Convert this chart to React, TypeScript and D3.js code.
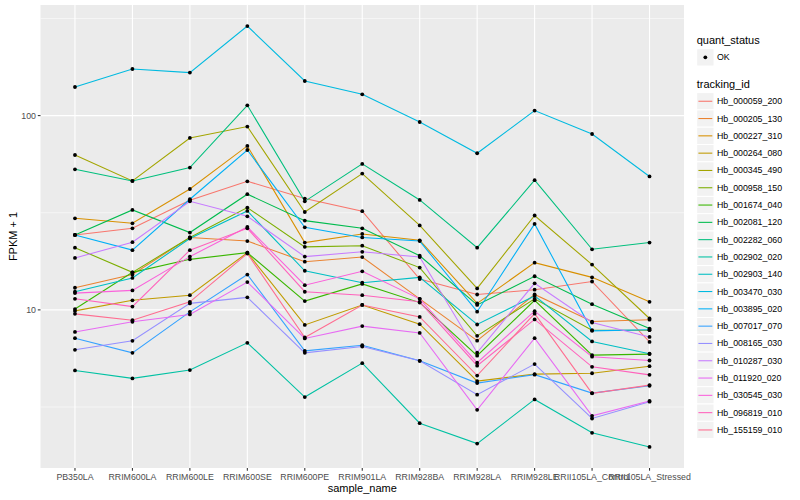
import React from "react";
import * as d3 from "d3";

const samples = [
  "PB350LA", "RRIM600LA", "RRIM600LE", "RRIM600SE", "RRIM600PE", "RRIM901LA",
  "RRIM928BA", "RRIM928LA", "RRIM928LE", "RRII105LA_Control", "RRII105LA_Stressed",
];

const trackingIds = [
  "Hb_000059_200", "Hb_000205_130", "Hb_000227_310", "Hb_000264_080", "Hb_000345_490",
  "Hb_000958_150", "Hb_001674_040", "Hb_002081_120", "Hb_002282_060", "Hb_002902_020",
  "Hb_002903_140", "Hb_003470_030", "Hb_003895_020", "Hb_007017_070", "Hb_008165_030",
  "Hb_010287_030", "Hb_011920_020", "Hb_030545_030", "Hb_096819_010", "Hb_155159_010",
];

// FPKM + 1 per sample
const hb000059_200 = [24.3, 26.3, 36.7, 45.9, 37.4, 32.2, 14.4, 12.0, 12.7, 14.0, 6.84];
const hb000205_130 = [13.0, 15.2, 23.6, 22.6, 17.7, 18.7, 11.4, 6.94, 12.0, 8.71, 8.9];
const hb000227_310 = [29.6, 27.9, 41.9, 69.8, 22.2, 24.6, 22.8, 10.8, 17.5, 14.7, 11.0];
const hb000264_080 = [9.88, 11.2, 11.9, 19.7, 8.37, 10.6, 8.44, 4.3, 4.67, 4.72, 5.13];
const hb000345_490 = [62.7, 46.1, 76.7, 87.8, 31.9, 50.3, 27.2, 12.9, 30.6, 17.1, 9.03];
const hb000958_150 = [20.9, 15.6, 23.6, 33.6, 21.1, 21.4, 16.5, 7.35, 11.4, 7.86, 7.86];
const hb001674_040 = [10.1, 15.6, 18.2, 19.7, 11.1, 13.6, 10.9, 5.81, 11.2, 5.85, 5.92];
const hb002081_120 = [24.3, 32.7, 25.0, 39.4, 28.8, 26.3, 19.0, 10.6, 14.9, 10.7, 8.01];
const hb002282_060 = [52.9, 46.1, 54.0, 113.0, 36.2, 56.4, 36.8, 20.9, 46.5, 20.5, 22.2];
const hb002902_020 = [4.88, 4.44, 4.9, 6.77, 3.56, 5.32, 2.61, 2.05, 3.46, 2.33, 1.97];
const hb002903_140 = [12.4, 14.6, 23.3, 32.3, 15.9, 13.8, 14.7, 8.41, 11.8, 6.88, 5.95];
const hb003470_030 = [140.3, 173.7, 166.4, 289.0, 150.7, 128.7, 92.7, 64.0, 106.1, 80.4, 48.6];
const hb003895_020 = [24.3, 20.3, 37.1, 66.5, 26.6, 23.6, 22.6, 9.79, 27.7, 7.8, 7.91];
const hb007017_070 = [7.15, 6.01, 9.77, 15.2, 6.15, 6.58, 5.47, 4.2, 4.64, 3.73, 4.07];
const hb008165_030 = [6.23, 6.93, 10.8, 11.6, 6.01, 6.48, 5.47, 3.66, 5.26, 2.76, 3.37];
const hb010287_030 = [18.5, 22.3, 36.2, 30.3, 18.8, 19.9, 18.7, 6.02, 13.7, 8.61, 7.26];
const hb011920_020 = [7.7, 8.68, 9.47, 13.9, 7.13, 8.25, 7.61, 3.06, 7.15, 2.85, 3.4];
const hb030545_030 = [12.2, 12.6, 18.8, 26.7, 13.4, 15.8, 11.4, 5.35, 9.85, 5.74, 5.49];
const hb096819_010 = [11.4, 10.4, 20.3, 26.3, 12.4, 11.9, 11.0, 5.16, 8.93, 5.09, 4.63];
const hb155159_010 = [9.54, 8.85, 11.0, 19.5, 7.21, 10.6, 9.2, 4.59, 9.56, 3.72, 4.1];

const seriesValues = [
  hb000059_200, hb000205_130, hb000227_310, hb000264_080, hb000345_490,
  hb000958_150, hb001674_040, hb002081_120, hb002282_060, hb002902_020,
  hb002903_140, hb003470_030, hb003895_020, hb007017_070, hb008165_030,
  hb010287_030, hb011920_020, hb030545_030, hb096819_010, hb155159_010,
];

const yMajorTicks = [10, 100];
const yMinorTicks = [10 ** 0.5, 10 ** 1.5, 10 ** 2.5];
const quantStatus = ["OK"];

const palette = [
  "#F8766D", "#EA8331", "#D89000", "#C09B00", "#A3A500", "#7CAE00", "#39B600",
  "#00BB4E", "#00BF7D", "#00C1A3", "#00BFC4", "#00BAE0", "#00B0F6", "#35A2FF",
  "#9590FF", "#C77CFF", "#E76BF3", "#FA62DB", "#FF62BC", "#FF6C90",
];

const W = 800;
const H = 500;
const panel = { left: 40.5, right: 684, top: 5, bottom: 468 };
const FONT = "'Liberation Sans', Arial, Helvetica, sans-serif";

export default function App() {
  const all = seriesValues.flat();
  const lmin = Math.log10(d3.min(all) as number);
  const lmax = Math.log10(d3.max(all) as number);
  const pad = (lmax - lmin) * 0.05;
  const y = d3
    .scaleLog()
    .domain([10 ** (lmin - pad), 10 ** (lmax + pad)])
    .range([panel.bottom, panel.top]);
  const x = d3
    .scalePoint<string>()
    .domain(samples)
    .range([panel.left, panel.right])
    .padding(0.6);

  const line = d3
    .line<number>()
    .x((_, i) => x(samples[i]) as number)
    .y((v) => y(v));

  const legX = 696.7;
  const keyW = 17.3;
  const keyH = 17.3;
  const trackTop = 92.6;

  return (
    <svg
      width={W}
      height={H}
      style={{ position: "absolute", left: 0, top: 0, background: "#fff" }}
      fontFamily={FONT}
    >
      <rect x={0} y={0} width={W} height={H} fill="#fff" />
      <rect
        x={panel.left}
        y={panel.top}
        width={panel.right - panel.left}
        height={panel.bottom - panel.top}
        fill="#EBEBEB"
      />
      {yMinorTicks.map((t) => (
        <line
          key={"mn" + t}
          x1={panel.left}
          x2={panel.right}
          y1={y(t)}
          y2={y(t)}
          stroke="#fff"
          strokeWidth={0.55}
        />
      ))}
      {yMajorTicks.map((t) => (
        <line
          key={"mj" + t}
          x1={panel.left}
          x2={panel.right}
          y1={y(t)}
          y2={y(t)}
          stroke="#fff"
          strokeWidth={1.1}
        />
      ))}
      {samples.map((s) => (
        <line
          key={"vx" + s}
          x1={x(s)}
          x2={x(s)}
          y1={panel.top}
          y2={panel.bottom}
          stroke="#fff"
          strokeWidth={1.1}
        />
      ))}

      {seriesValues.map((vals, i) => (
        <path
          key={"l" + i}
          d={line(vals) || ""}
          fill="none"
          stroke={palette[i]}
          strokeWidth={1.07}
        />
      ))}
      {seriesValues.map((vals, i) =>
        vals.map((v, j) => (
          <circle
            key={"p" + i + "-" + j}
            cx={x(samples[j])}
            cy={y(v)}
            r={1.9}
            fill="#000"
          />
        ))
      )}

      {/* y axis */}
      {yMajorTicks.map((t) => (
        <g key={"yt" + t}>
          <line x1={panel.left - 2.7} x2={panel.left} y1={y(t)} y2={y(t)} stroke="#333" strokeWidth={1.07} />
          <text
            x={panel.left - 4.5}
            y={y(t)}
            dy="0.34em"
            textAnchor="end"
            fontSize={8.8}
            fill="#4D4D4D"
          >
            {t}
          </text>
        </g>
      ))}
      <text
        transform={`translate(13.5, ${(panel.top + panel.bottom) / 2}) rotate(-90)`}
        textAnchor="middle"
        dy="0.35em"
        fontSize={11}
        fill="#000"
      >
        FPKM + 1
      </text>

      {/* x axis */}
      {samples.map((s) => (
        <g key={"xt" + s}>
          <line x1={x(s)} x2={x(s)} y1={panel.bottom} y2={panel.bottom + 2.7} stroke="#333" strokeWidth={1.07} />
          <text x={x(s)} y={panel.bottom + 12.3} textAnchor="middle" fontSize={8.8} fill="#4D4D4D">
            {s}
          </text>
        </g>
      ))}
      <text
        x={(panel.left + panel.right) / 2}
        y={492}
        textAnchor="middle"
        fontSize={11}
        fill="#000"
      >
        sample_name
      </text>

      {/* legend: quant_status */}
      <text x={legX} y={44} fontSize={11} fill="#000">
        quant_status
      </text>
      {quantStatus.map((q, i) => (
        <g key={"qs" + q}>
          <rect
            x={legX}
            y={48.7 + i * keyH}
            width={keyW}
            height={keyH}
            fill="#F2F2F2"
            stroke="#fff"
            strokeWidth={1}
          />
          <circle cx={legX + keyW / 2} cy={48.7 + i * keyH + keyH / 2} r={1.9} fill="#000" />
          <text x={legX + keyW + 3} y={48.7 + i * keyH + keyH / 2} dy="0.34em" fontSize={8.8} fill="#000">
            {q}
          </text>
        </g>
      ))}

      {/* legend: tracking_id */}
      <text x={legX} y={88} fontSize={11} fill="#000">
        tracking_id
      </text>
      {trackingIds.map((id, i) => {
        const ty = trackTop + i * keyH;
        return (
          <g key={"lg" + id}>
            <rect x={legX} y={ty} width={keyW} height={keyH} fill="#F2F2F2" stroke="#fff" strokeWidth={1} />
            <line
              x1={legX + 1.7}
              x2={legX + keyW - 1.7}
              y1={ty + keyH / 2}
              y2={ty + keyH / 2}
              stroke={palette[i]}
              strokeWidth={1.07}
            />
            <text x={legX + keyW + 3} y={ty + keyH / 2} dy="0.34em" fontSize={8.8} fill="#000">
              {id}
            </text>
          </g>
        );
      })}
    </svg>
  );
}
